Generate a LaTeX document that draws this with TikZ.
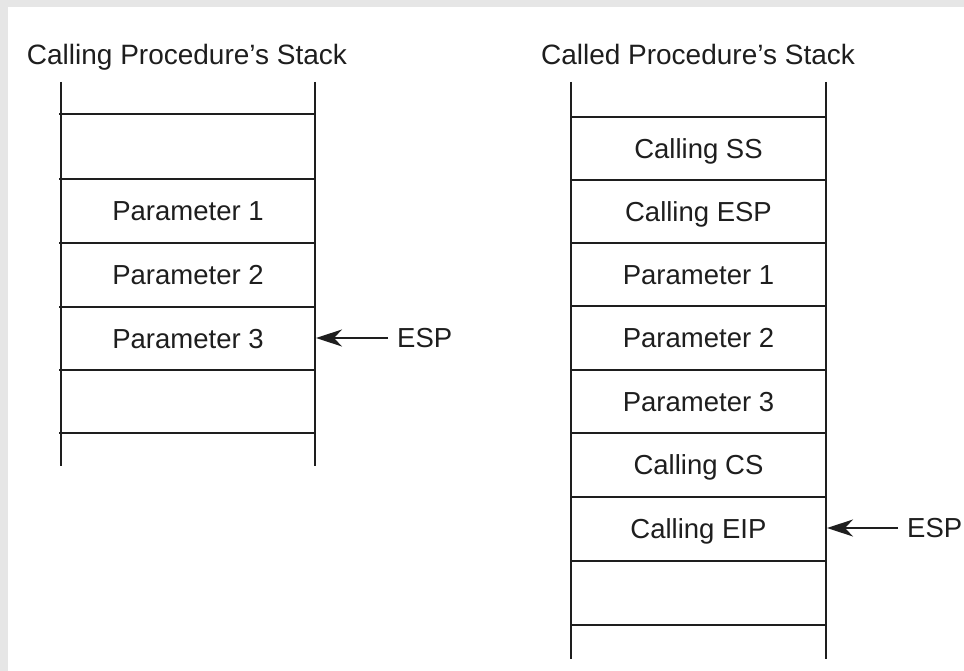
\documentclass[tikz,border=0pt]{standalone}
\usepackage{fontspec}
\setmainfont{Liberation Sans}
\usetikzlibrary{arrows.meta}
\definecolor{ink}{HTML}{1E1E1E}
\definecolor{frame}{HTML}{E6E6E6}
\begin{document}
\begin{tikzpicture}[x=1pt,y=-1pt,
  stackline/.style={draw=ink,line width=1.6pt},
  cell/.style={inner sep=0pt,text=ink,text height=19.7pt,text depth=0pt,font=\fontsize{27.5}{33}\selectfont},
  title/.style={inner sep=0pt,text=ink,anchor=base,font=\fontsize{28}{33}\selectfont},
  esplabel/.style={inner sep=0pt,text=ink,text height=19.7pt,text depth=0pt,font=\fontsize{27.5}{33}\selectfont,anchor=west},
  ptr/.style={draw=ink,line width=1.5pt,-{Stealth[length=26pt,width=17pt,inset=8pt]}}]
\useasboundingbox (0,0) rectangle (964,671);
\fill[frame] (0,0) rectangle (964,671);
\fill[white] (8,7) rectangle (964,671);
% left stack
\node[title] (t1) at (187,65) {Calling Procedure’s Stack};
\draw[stackline] (61,82) -- (61,466);
\draw[stackline] (315,82) -- (315,466);
\foreach \y in {114,179,243,307,370,433} \draw[stackline] (59,\y) -- (315,\y);
\node[cell] (lp1) at (188,211) {Parameter 1};
\node[cell] (lp2) at (188,275) {Parameter 2};
\node[cell] (lp3) at (188,338.5) {Parameter 3};
\coordinate (lptr) at (316,338);
\node[esplabel] (esp1) at (397,338) {ESP};
\draw[ptr] ([xshift=-9pt]esp1.west) -- (lptr);
% right stack
\node[title] (t2) at (698,65) {Called Procedure’s Stack};
\draw[stackline] (571,82) -- (571,659);
\draw[stackline] (826,82) -- (826,659);
\foreach \y in {117,180,243,306,370,433,497,561,625} \draw[stackline] (571,\y) -- (826,\y);
\node[cell] (rss) at (698.5,148.5) {Calling SS};
\node[cell] (resp) at (698.5,211.5) {Calling ESP};
\node[cell] (rp1) at (698.5,274.5) {Parameter 1};
\node[cell] (rp2) at (698.5,338) {Parameter 2};
\node[cell] (rp3) at (698.5,401.5) {Parameter 3};
\node[cell] (rcs) at (698.5,465) {Calling CS};
\node[cell] (reip) at (698.5,529) {Calling EIP};
\coordinate (rptr) at (827,528);
\node[esplabel] (esp2) at (907,528) {ESP};
\draw[ptr] ([xshift=-9pt]esp2.west) -- (rptr);
\end{tikzpicture}
\end{document}
